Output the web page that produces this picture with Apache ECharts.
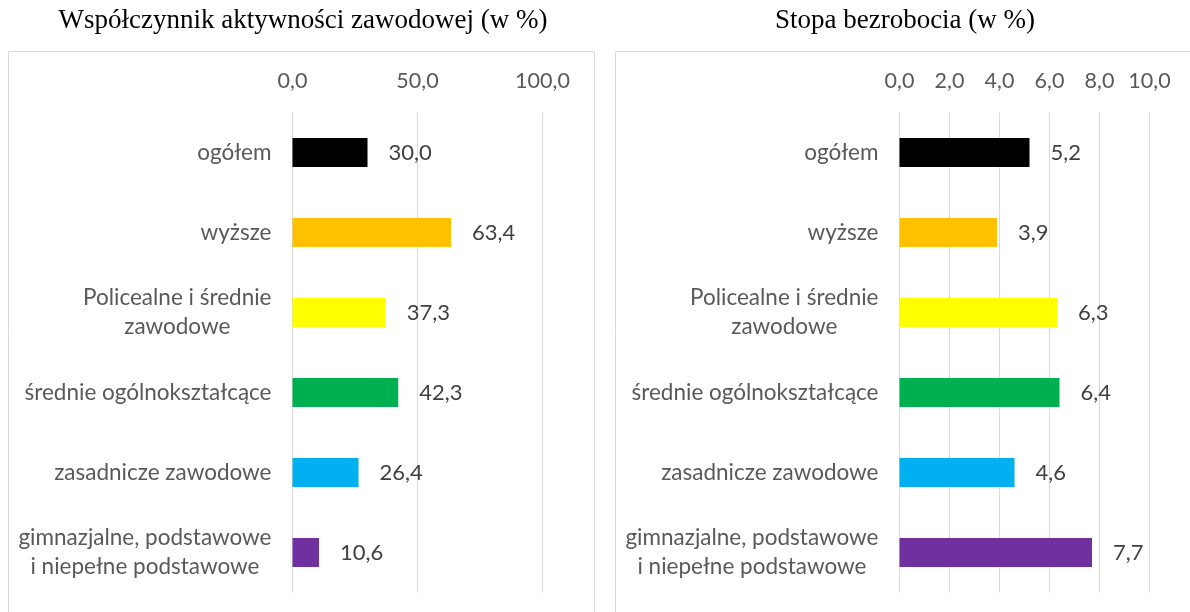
<!DOCTYPE html>
<html>
<head>
<meta charset="utf-8">
<script src="https://cdn.jsdelivr.net/npm/echarts@6/dist/echarts.min.js"></script>
<style>
html,body{margin:0;padding:0;background:#fff;}
#chart{width:1190px;height:612px;}
</style>
</head>
<body>
<div id="chart"></div>
<script>
const categories = ['ogółem', 'wyższe', 'Policealne i średnie\nzawodowe', 'średnie ogólnokształcące', 'zasadnicze zawodowe', 'gimnazjalne, podstawowe\ni niepełne podstawowe'];
const activityRate = [30.0, 63.4, 37.3, 42.3, 26.4, 10.6];
const unemploymentRate = [5.2, 3.9, 6.3, 6.4, 4.6, 7.7];
const barColors = ['#000000', '#FFC000', '#FFFF00', '#00B050', '#00B0F0', '#7030A0'];
const titleLeft = 'Współczynnik aktywności zawodowej (w %)';
const titleRight = 'Stopa bezrobocia (w %)';
const leftTicks = [0, 50, 100];
const rightTicks = [0, 2, 4, 6, 8, 10];

const FONT = 'Lato';
const fmt = v => Number(v).toFixed(1).replace('.', ',');
const catFmt = v => v.split('\n').map(l => '{c|' + l + '}').join('\n');

function xAxisFor(gridIndex, ticks) {
  return {
    gridIndex: gridIndex, type: 'value', position: 'top',
    min: ticks[0], max: ticks[ticks.length - 1], interval: ticks[1] - ticks[0],
    axisLine: {show: false}, axisTick: {show: false},
    splitLine: {show: true, lineStyle: {color: '#d9d9d9', width: 1}},
    axisLabel: {formatter: fmt, color: '#595959', fontFamily: FONT, fontSize: 21.5, margin: 20}
  };
}
function yAxisFor(gridIndex) {
  return {
    gridIndex: gridIndex, type: 'category', data: categories, inverse: true,
    axisLine: {show: false}, axisTick: {show: false}, splitLine: {show: false},
    axisLabel: {
      formatter: catFmt, margin: 21, interval: 0,
      rich: {c: {align: 'center', color: '#595959', fontFamily: FONT, fontSize: 22.5, lineHeight: 29}}
    }
  };
}
function seriesFor(idx, data) {
  return {
    type: 'bar', xAxisIndex: idx, yAxisIndex: idx, data: data, barWidth: 29,
    itemStyle: {color: p => barColors[p.dataIndex]},
    label: {show: true, position: 'right', distance: 21, formatter: p => fmt(p.value),
      color: '#404040', fontFamily: FONT, fontSize: 22}
  };
}

const chart = echarts.init(document.getElementById('chart'), null, {renderer: 'canvas'});
chart.setOption({
  animation: false,
  backgroundColor: '#ffffff',
  grid: [
    {left: 292.5, top: 112.5, width: 250, height: 480},
    {left: 899.5, top: 112.5, width: 250, height: 480}
  ],
  xAxis: [xAxisFor(0, leftTicks), xAxisFor(1, rightTicks)],
  yAxis: [yAxisFor(0), yAxisFor(1)],
  series: [seriesFor(0, activityRate), seriesFor(1, unemploymentRate)],
  graphic: [
    {type: 'rect', silent: true, z: -10, shape: {x: 8.5, y: 51.5, width: 586, height: 580}, style: {fill: null, stroke: '#d9d9d9', lineWidth: 1}},
    {type: 'rect', silent: true, z: -10, shape: {x: 615.5, y: 51.5, width: 600, height: 580}, style: {fill: null, stroke: '#d9d9d9', lineWidth: 1}},
    {type: 'text', x: 303, y: 21, style: {text: titleLeft, fill: '#000', font: '27px "Liberation Serif"', textAlign: 'center', textVerticalAlign: 'middle'}},
    {type: 'text', x: 905, y: 21, style: {text: titleRight, fill: '#000', font: '27px "Liberation Serif"', textAlign: 'center', textVerticalAlign: 'middle'}}
  ]
});
</script>
</body>
</html>
